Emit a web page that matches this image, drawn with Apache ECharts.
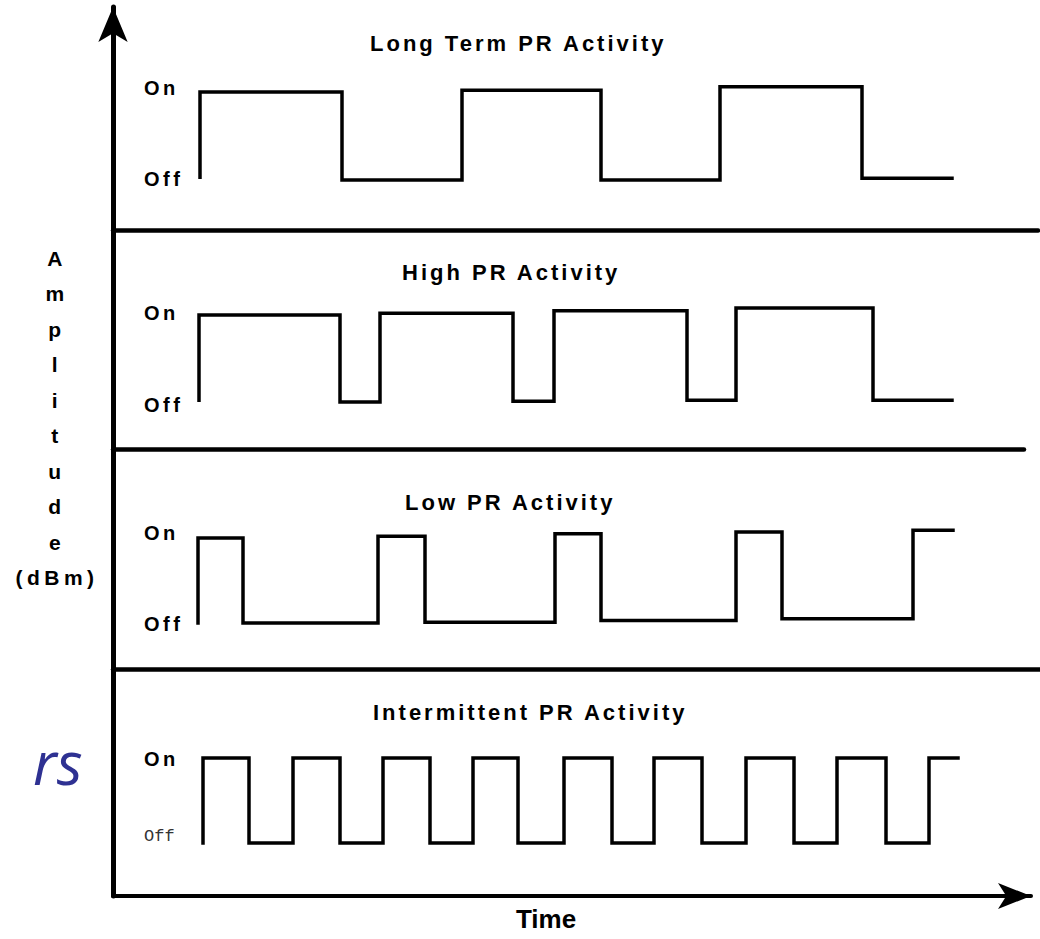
<!DOCTYPE html>
<html>
<head>
<meta charset="utf-8">
<script src="https://cdn.jsdelivr.net/npm/echarts@6/dist/echarts.min.js"></script>
<style>
  html, body { margin: 0; padding: 0; background: #fff; }
  #chart { width: 1040px; height: 939px; }
  /* letter spacing groups (SVG renderer) */
  text[style*="Helvetica"] { letter-spacing: 3px; }
  text[style*="Arial"] { letter-spacing: 3.5px; }
  text[style*="FreeSans"] { letter-spacing: 4.5px; }
</style>
</head>
<body>
<div id="chart"></div>
<script>
// ---------------- data ----------------
const panelTitles = ['Long Term PR Activity', 'High PR Activity', 'Low PR Activity', 'Intermittent PR Activity'];
const stateOn = 'On';
const stateOff = 'Off';
const yAxisTitle = 'A\nm\np\nl\ni\nt\nu\nd\ne\n(dBm)';
const xAxisTitle = 'Time';
const sideFragment = 'rs';

// transition times (last entry = end of trace); levels = state after each transition (1 = On, 0 = Off)
const longTermTimes = [87, 229, 349, 488, 607, 749, 839];
const longTermLevels = [1, 0, 1.02, 0, 1.06, 0.02];
const longTermStart = 0.03;

const highTimes = [86, 227, 267, 400, 441, 574, 623, 760, 839];
const highLevels = [1, 0, 1.02, 0.01, 1.05, 0.02, 1.08, 0.02];
const highStart = 0.02;

const lowTimes = [85, 130, 265, 312, 442, 488, 623, 669, 800, 840];
const lowLevels = [1, 0, 1.02, 0.01, 1.05, 0.03, 1.07, 0.05, 1.09];
const lowStart = 0;

const intermittentTimes = [90, 136, 180, 227, 270, 317, 360, 405, 451, 499, 541, 589, 633, 681, 724, 773, 816, 845];
const intermittentLevels = [1, 0, 1, 0, 1, 0, 1, 0, 1, 0, 1, 0, 1, 0, 1, 0, 1];
const intermittentStart = 0;

// ---------------- layout ----------------
const AXIS_X = 113;
const panels = [
  { top: 7, bottom: 230, right: 1038, onPx: 92, offPx: 180, onLabelPx: 87.5, offLabelPx: 179,
    times: longTermTimes, levels: longTermLevels, start: longTermStart, titleX: 370, titleY: 43 },
  { top: 230, bottom: 449, right: 1024, onPx: 315, offPx: 402, onLabelPx: 313, offLabelPx: 405,
    times: highTimes, levels: highLevels, start: highStart, titleX: 402, titleY: 272.5 },
  { top: 449, bottom: 669, right: 1040, onPx: 538, offPx: 623, onLabelPx: 533, offLabelPx: 624,
    times: lowTimes, levels: lowLevels, start: lowStart, titleX: 405, titleY: 502 },
  { top: 669, bottom: 896, right: 1031, onPx: 758, offPx: 843, onLabelPx: 759, offLabelPx: 836,
    times: intermittentTimes, levels: intermittentLevels, start: intermittentStart, titleX: 373, titleY: 712.5 }
];

function stepData(times, levels, start) {
  const d = [[times[0], start]];
  levels.forEach((lv, i) => d.push([times[i], lv]));
  d.push([times[times.length - 1], levels[levels.length - 1]]);
  return d;
}

const grids = [], xAxes = [], yAxes = [], series = [], graphics = [];

panels.forEach((p, i) => {
  const width = p.right - AXIS_X;
  const unit = p.offPx - p.onPx;
  grids.push({ left: AXIS_X, top: p.top, width: width, height: p.bottom - p.top, outerBoundsMode: 'none' });
  const isLast = i === panels.length - 1;
  xAxes.push({
    gridIndex: i, type: 'value', min: 0, max: width,
    axisLine: { show: true, onZero: false,
      symbol: isLast ? ['none', 'arrow'] : ['none', 'none'],
      symbolSize: [19.5, 33],
      lineStyle: { color: '#000', width: isLast ? 4 : 4.5 } },
    axisTick: { show: false }, axisLabel: { show: false }, splitLine: { show: false }
  });
  const offVal = (p.offPx - p.offLabelPx) / unit;
  const onVal = (p.offPx - p.onLabelPx) / unit;
  yAxes.push({
    gridIndex: i, type: 'value',
    min: -(p.bottom - p.offPx) / unit,
    max: 1 + (p.onPx - p.top) / unit,
    axisLine: { show: true, onZero: false,
      symbol: i === 0 ? ['none', 'arrow'] : ['none', 'none'],
      symbolSize: [22, 35],
      lineStyle: { color: '#000', width: 5 } },
    axisTick: { show: false },
    splitLine: { show: false },
    axisLabel: {
      show: true, inside: true, margin: 31,
      customValues: [offVal, onVal],
      formatter: v => v > 0.5 ? '{on|' + stateOn + '}' : (isLast ? '{mono|' + stateOff + '}' : '{on|' + stateOff + '}'),
      rich: {
        on: { fontFamily: "'Liberation Sans', Arial", fontWeight: 'bold', fontSize: 20, color: '#000' },
        mono: { fontFamily: "'Liberation Mono', monospace", fontWeight: 'normal', fontSize: 17, color: '#333' }
      }
    }
  });
  series.push({
    type: 'line', xAxisIndex: i, yAxisIndex: i, step: 'end',
    data: stepData(p.times, p.levels, p.start),
    showSymbol: false, symbol: 'none',
    lineStyle: { color: '#000', width: 3.5, join: 'miter', cap: 'square' },
    animation: false, silent: true
  });
  graphics.push({
    type: 'text', x: p.titleX, y: p.titleY,
    style: { text: panelTitles[i], font: "bold 22px 'Liberation Sans', Helvetica", fill: '#000',
      textAlign: 'left', align: 'left', textVerticalAlign: 'middle', verticalAlign: 'middle' }
  });
});

graphics.push({
  type: 'text', x: 57, y: 418,
  style: { text: yAxisTitle, font: "bold 21px 'Liberation Sans', FreeSans", fill: '#000', lineHeight: 35.5,
    textAlign: 'center', align: 'center', textVerticalAlign: 'middle', verticalAlign: 'middle' }
});
graphics.push({
  type: 'text', x: 546, y: 919,
  style: { text: xAxisTitle, font: "bold 26px 'Liberation Sans'", fill: '#000',
    textAlign: 'center', align: 'center', textVerticalAlign: 'middle', verticalAlign: 'middle' }
});
graphics.push({
  type: 'text', x: 33, y: 762,
  style: { text: sideFragment, font: "italic 60px 'Open Sans'", fill: '#2e3192',
    textAlign: 'left', align: 'left', textVerticalAlign: 'middle', verticalAlign: 'middle' }
});

const chart = echarts.init(document.getElementById('chart'), null, { renderer: 'svg' });
chart.setOption({
  animation: false,
  backgroundColor: '#fff',
  grid: grids,
  xAxis: xAxes,
  yAxis: yAxes,
  series: series,
  graphic: graphics
});
</script>
</body>
</html>
